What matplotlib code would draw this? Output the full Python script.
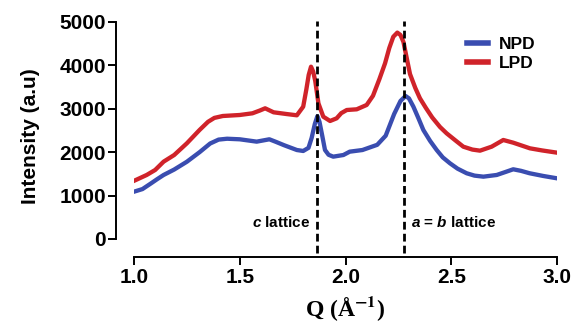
import matplotlib
matplotlib.use("Agg")
import matplotlib.pyplot as plt

# NPD / LPD diffraction curves
q_npd = [1.00, 1.04, 1.08, 1.11, 1.14, 1.19, 1.25, 1.31, 1.36, 1.40, 1.44, 1.50,
         1.58, 1.64, 1.67, 1.71, 1.77, 1.80, 1.825, 1.84, 1.855, 1.867, 1.877,
         1.89, 1.903, 1.92, 1.942, 1.99, 2.02, 2.08, 2.15, 2.19, 2.23, 2.26,
         2.284, 2.30, 2.321, 2.345, 2.368, 2.40, 2.431, 2.46, 2.494, 2.53, 2.573,
         2.61, 2.652, 2.715, 2.76, 2.793, 2.83, 2.87, 2.935, 3.00]
i_npd = [1090, 1150, 1280, 1380, 1475, 1600, 1780, 2000, 2200, 2290, 2310, 2297,
         2243, 2297, 2240, 2160, 2050, 2028, 2100, 2330, 2650, 2830, 2700,
         2380, 2051, 1940, 1897, 1935, 2012, 2050, 2170, 2380, 2880, 3180,
         3295, 3240, 3049, 2780, 2512, 2260, 2051, 1880, 1744, 1620, 1514,
         1460, 1436, 1475, 1550, 1606, 1570, 1515, 1452, 1398]

q_lpd = [1.00, 1.06, 1.10, 1.14, 1.19, 1.25, 1.31, 1.35, 1.38, 1.42, 1.50, 1.56,
         1.595, 1.62, 1.66, 1.72, 1.77, 1.80, 1.815, 1.826, 1.837, 1.847, 1.857,
         1.872, 1.895, 1.927, 1.958, 1.98, 2.006, 2.053, 2.10, 2.13, 2.16,
         2.187, 2.207, 2.226, 2.245, 2.26, 2.274, 2.289, 2.305, 2.33, 2.352,
         2.38, 2.41, 2.447, 2.478, 2.52, 2.557, 2.60, 2.636, 2.691, 2.746,
         2.793, 2.872, 2.93, 3.00]
i_lpd = [1340, 1475, 1590, 1782, 1935, 2205, 2512, 2700, 2790, 2834, 2857, 2896,
         2960, 3011, 2919, 2880, 2850, 3049, 3450, 3780, 3970, 3860, 3640,
         3126, 2818, 2719, 2780, 2900, 2972, 2988, 3088, 3300, 3680,
         4048, 4400, 4660, 4755, 4700, 4540, 4180, 3800, 3480, 3241,
         3020, 2800, 2580, 2435, 2270, 2127, 2060, 2035, 2127, 2281,
         2219, 2089, 2040, 1989]

lattice_q = [1.865, 2.277]
xticks = [1.0, 1.5, 2.0, 2.5, 3.0]
yticks = [0, 1000, 2000, 3000, 4000, 5000]

plt.rcParams['font.family'] = ['Liberation Sans', 'DejaVu Sans']
plt.rcParams['font.weight'] = 'bold'
plt.rcParams['mathtext.fontset'] = 'custom'
plt.rcParams['mathtext.it'] = 'Liberation Sans:italic:bold'
plt.rcParams['mathtext.rm'] = 'Liberation Sans:bold'

fig = plt.figure(figsize=(5.81, 3.27), dpi=100)
ax = fig.add_axes([134/581, 70/327, 423/581, 242/327])

blue = '#3a4db0'
red = '#d0232a'
ax.plot(q_npd, i_npd, color=blue, lw=3.1, label='NPD', solid_joinstyle='round')
ax.plot(q_lpd, i_lpd, color=red, lw=3.1, label='LPD', solid_joinstyle='round')

for q in lattice_q:
    ax.plot([q, q], [-320, 5020], color='black', lw=2.0, ls=(0, (2.8, 1.5)))

ax.text(1.835, 370, r'$c$ lattice', ha='right', va='center', fontsize=11, fontweight='bold')
ax.text(2.31, 370, r'$a$ = $b$ lattice', ha='left', va='center', fontsize=11, fontweight='bold')

ax.set_xlim(1.0, 3.0)
ax.set_ylim(-415, 5161)
ax.set_xticks(xticks)
ax.set_xticklabels([f'{t:.1f}' for t in xticks])
ax.set_yticks(yticks)

for s in ['top', 'right']:
    ax.spines[s].set_visible(False)
ax.spines['left'].set_position(('outward', 13))
ax.spines['left'].set_bounds(0, 5000)
ax.spines['left'].set_linewidth(1.4)
ax.spines['bottom'].set_linewidth(1.4)
ax.tick_params(axis='both', direction='out', length=5.5, width=1.4, labelsize=15)
ax.tick_params(axis='y', pad=1.5)
ax.tick_params(axis='x', pad=2.5)

ax.set_ylabel('Intensity (a.u)', fontsize=15, fontweight='bold', labelpad=14)
ax.set_xlabel(r'Q (Å$^{\mathbf{-1}}$)', fontsize=17, fontweight='bold',
              family='Liberation Serif', math_fontfamily='stix', labelpad=5)

leg = ax.legend(loc='upper right', bbox_to_anchor=(0.985, 0.975), frameon=False,
                fontsize=12.5, handlelength=1.2, handletextpad=0.6, labelspacing=0.25)
for h in leg.get_lines():
    h.set_linewidth(4)

fig.savefig('out.png', dpi=100)
